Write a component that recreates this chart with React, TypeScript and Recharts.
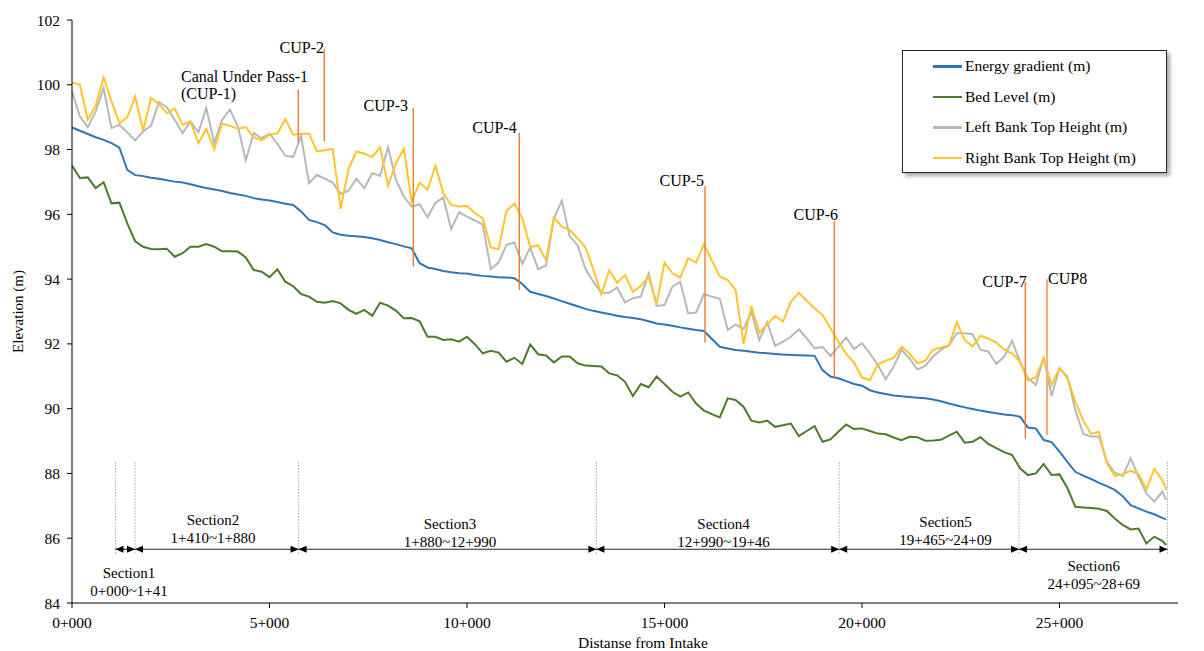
import React from "react";
import { LineChart, Line, XAxis, YAxis, Legend, ReferenceLine, ReferenceDot } from "recharts";

document.body.style.margin = "0";
document.body.style.overflow = "hidden";

const FONT = "'Times New Roman', 'Liberation Serif', serif";

// chainage stations (m)
const stations = [
  0, 200, 400, 600, 800, 1000, 1200, 1400, 1600, 1800,
  2000, 2200, 2400, 2600, 2800, 3000, 3200, 3400, 3600, 3800,
  4000, 4200, 4400, 4600, 4800, 5000, 5200, 5400, 5600, 5800,
  6000, 6200, 6400, 6600, 6800, 7000, 7200, 7400, 7600, 7800,
  8000, 8200, 8400, 8600, 8800, 9000, 9200, 9400, 9600, 9800,
  10000, 10200, 10400, 10600, 10800, 11000, 11200, 11400, 11600, 11800,
  12000, 12200, 12400, 12600, 12800, 13000, 13200, 13400, 13600, 13800,
  14000, 14200, 14400, 14600, 14800, 15000, 15200, 15400, 15600, 15800,
  16000, 16200, 16400, 16600, 16800, 17000, 17200, 17400, 17600, 17800,
  18000, 18200, 18400, 18600, 18800, 19000, 19200, 19400, 19600, 19800,
  20000, 20200, 20400, 20600, 20800, 21000, 21200, 21400, 21600, 21800,
  22000, 22200, 22400, 22600, 22800, 23000, 23200, 23400, 23600, 23800,
  24000, 24200, 24400, 24600, 24800, 25000, 25200, 25400, 25600, 25800,
  26000, 26200, 26400, 26600, 26800, 27000, 27200, 27400, 27600, 27700,
];

const energyGradient = [
  98.68, 98.58, 98.48, 98.38, 98.3, 98.2, 98.06, 97.37, 97.21, 97.18,
  97.13, 97.1, 97.05, 97.01, 96.98, 96.93, 96.87, 96.81, 96.77, 96.72,
  96.66, 96.61, 96.57, 96.5, 96.46, 96.43, 96.38, 96.33, 96.29, 96.09,
  95.83, 95.76, 95.67, 95.44, 95.37, 95.34, 95.32, 95.3, 95.26, 95.21,
  95.14, 95.08, 95.01, 94.95, 94.49, 94.36, 94.31, 94.25, 94.21, 94.18,
  94.17, 94.13, 94.1, 94.08, 94.06, 94.05, 94.03, 93.85, 93.61, 93.54,
  93.48, 93.4, 93.32, 93.24, 93.16, 93.08, 93.02, 92.97, 92.92, 92.87,
  92.83, 92.8, 92.76, 92.7, 92.63, 92.6, 92.56, 92.51, 92.47, 92.43,
  92.4, 92.15, 91.91, 91.86, 91.81, 91.79, 91.76, 91.73, 91.71, 91.69,
  91.67, 91.66, 91.65, 91.64, 91.63, 91.19, 90.99, 90.94, 90.85, 90.76,
  90.71, 90.57, 90.5, 90.45, 90.41, 90.38, 90.36, 90.34, 90.32, 90.28,
  90.23, 90.16, 90.1, 90.04, 89.99, 89.94, 89.9, 89.86, 89.82, 89.8,
  89.75, 89.42, 89.39, 89.03, 88.97, 88.67, 88.36, 88.05, 87.93, 87.83,
  87.71, 87.61, 87.49, 87.3, 87.02, 86.92, 86.82, 86.74, 86.63, 86.58,
];

const bedLevel = [
  97.51, 97.12, 97.14, 96.81, 96.99, 96.34, 96.36, 95.72, 95.17, 95.0,
  94.93, 94.92, 94.94, 94.69, 94.8, 95.0, 95.0, 95.08, 95.0, 94.86,
  94.86, 94.85, 94.67, 94.28, 94.23, 94.06, 94.3, 93.92, 93.78, 93.54,
  93.46, 93.3, 93.27, 93.32, 93.25, 93.05, 92.93, 93.05, 92.87, 93.27,
  93.18, 93.03, 92.79, 92.8, 92.7, 92.22, 92.22, 92.12, 92.14, 92.07,
  92.22, 91.99, 91.71, 91.79, 91.73, 91.45, 91.57, 91.38, 91.98, 91.68,
  91.64, 91.43, 91.61, 91.61, 91.4, 91.33, 91.32, 91.3, 91.09, 91.03,
  90.83, 90.39, 90.76, 90.66, 90.99, 90.76, 90.52, 90.37, 90.5, 90.16,
  89.94, 89.83, 89.73, 90.32, 90.27, 90.06, 89.63, 89.57, 89.63, 89.44,
  89.49, 89.54, 89.15, 89.31, 89.46, 88.98, 89.05, 89.29, 89.51, 89.37,
  89.39, 89.31, 89.23, 89.21, 89.11, 89.03, 89.13, 89.12, 89.01, 89.02,
  89.04, 89.17, 89.29, 88.95, 88.98, 89.12, 88.91, 88.78, 88.66, 88.57,
  88.16, 87.95, 88.0, 88.29, 87.95, 87.97, 87.55, 86.97, 86.95, 86.93,
  86.91, 86.84, 86.61, 86.41, 86.27, 86.3, 85.84, 86.05, 85.92, 85.79,
];

const leftBankTop = [
  99.79, 99.02, 98.69, 99.18, 99.9, 98.66, 98.76, 98.53, 98.28, 98.56,
  98.73, 99.46, 99.31, 98.92, 98.51, 98.87, 98.53, 99.28, 98.2, 98.92,
  99.23, 98.71, 97.66, 98.51, 98.35, 98.49, 98.18, 97.81, 97.77, 98.42,
  96.96, 97.22, 97.1, 96.98, 96.63, 96.73, 97.1, 96.81, 97.27, 97.19,
  98.07, 97.07, 96.55, 96.24, 96.31, 95.91, 96.35, 96.52, 95.54, 96.07,
  95.93, 95.81, 95.68, 94.31, 94.51, 95.06, 95.13, 94.47, 94.98, 94.31,
  94.42, 95.88, 96.42, 95.32, 95.04, 94.31, 93.92, 93.58, 93.58, 93.74,
  93.28, 93.41, 93.46, 94.18, 93.17, 93.2, 93.77, 93.92, 92.94, 92.97,
  93.54, 93.46, 93.39, 92.43, 92.6, 92.46, 92.99, 92.12, 92.67, 91.94,
  92.07, 92.22, 92.45, 92.17, 91.86, 91.91, 91.63, 91.91, 92.19, 91.84,
  92.02, 91.71, 91.35, 90.91, 91.3, 91.81, 91.56, 91.21, 91.32, 91.61,
  91.82, 91.95, 92.33, 92.33, 92.3, 91.82, 91.76, 91.38, 91.61, 92.1,
  91.45, 90.94, 90.73, 91.58, 90.39, 91.25, 90.99, 89.96, 89.22, 89.14,
  89.14, 88.36, 88.02, 87.92, 88.47, 87.9, 87.38, 87.13, 87.44, 87.18,
];

const rightBankTop = [
  100.07, 100.0, 98.92, 99.35, 100.23, 99.49, 98.8, 99.0, 99.63, 98.58,
  99.59, 99.41, 99.12, 99.27, 98.76, 98.87, 98.2, 98.64, 98.01, 98.8,
  98.73, 98.64, 98.69, 98.38, 98.28, 98.46, 98.49, 98.94, 98.46, 98.49,
  98.49, 97.94, 97.98, 98.02, 96.17, 97.4, 97.94, 97.87, 97.77, 98.07,
  96.89, 97.58, 98.02, 96.4, 96.98, 96.76, 97.5, 96.66, 96.29, 96.24,
  96.26, 96.04, 95.88, 94.98, 94.93, 96.11, 96.33, 95.88, 94.99, 95.04,
  94.59, 95.9, 95.62, 95.52, 95.26, 94.98, 94.29, 93.54, 94.27, 93.89,
  94.13, 93.61, 93.79, 94.08, 93.23, 94.51, 94.18, 94.05, 94.64, 94.51,
  95.08, 94.57, 94.08, 93.97, 93.67, 92.0, 93.17, 92.35, 92.6, 92.86,
  92.69, 93.3, 93.58, 93.33, 93.1, 92.89, 92.48, 92.07, 91.69, 91.42,
  90.96, 90.88, 91.37, 91.48, 91.57, 91.91, 91.71, 91.4, 91.48, 91.82,
  91.89, 91.95, 92.67, 92.12, 91.92, 92.25, 92.16, 92.04, 91.82, 91.71,
  91.45, 90.87, 90.97, 91.56, 90.73, 91.25, 90.94, 90.22, 89.63, 89.22,
  89.29, 88.31, 87.92, 87.97, 88.09, 87.98, 87.51, 88.14, 87.8, 87.51,
];

const seriesNames = [
  "Energy gradient (m)", "Bed Level (m)", "Left Bank Top Height (m)", "Right Bank Top Height (m)",
];

const xTicks = [0, 5000, 10000, 15000, 20000, 25000];
const yTicks = [84, 86, 88, 90, 92, 94, 96, 98, 100, 102];

// canal under passes
const cupStations = [5729, 6387, 8641, 11324, 16025, 19299, 24134, 24684];
const cupTop = [99.85, 101.1, 99.28, 98.51, 96.88, 95.78, 93.92, 94.0];
const cupBottom = [98.22, 98.25, 94.39, 93.67, 92.04, 90.94, 89.08, 89.18];
const cupLabels = [
  ["Canal Under Pass-1", "(CUP-1)"], ["CUP-2"], ["CUP-3"], ["CUP-4"],
  ["CUP-5"], ["CUP-6"], ["CUP-7"], ["CUP8"],
];
const cupLabelX = [2759, 6380, 8506, 11258, 16000, 19392, 24170, 24709];
const cupLabelY = [100.1, 100.99, 99.18, 98.52, 96.88, 95.81, 93.77, 93.84];
const cupLabelAnchor = ["start", "end", "end", "end", "end", "end", "end", "start"];

// canal sections
const sectionBounds = [1099, 1595, 5737, 13276, 19423, 23975, 27734];
const sectionNames = ["Section1", "Section2", "Section3", "Section4", "Section5", "Section6"];
const sectionRanges = [
  "0+000~1+41", "1+410~1+880", "1+880~12+990", "12+990~19+46", "19+465~24+09", "24+095~28+69",
];
const sectionLabelX = [1443, 3570, 9570, 16496, 22116, 25866];
const sectionLabelY = [84.76, 86.4, 86.28, 86.28, 86.34, 84.98];
const arrowLevel = 85.66;
const dividerTop = 88.36;
const dividerBottom = 85.53;

const rows = stations.map((x, i) => ({
  x,
  energy: energyGradient[i],
  bed: bedLevel[i],
  left: leftBankTop[i],
  right: rightBankTop[i],
}));

const chainage = (v: number) => `${Math.floor(v / 1000)}+${String(v % 1000).padStart(3, "0")}`;

// eslint-disable-next-line @typescript-eslint/no-explicit-any
function ArrowShape(p: any) {
  const { x1, y1, x2 } = p;
  const h = 8;
  const w = 3.5;
  return (
    <g>
      <line x1={x1} y1={y1} x2={x2} y2={y1} stroke="#262626" strokeWidth={1.2} />
      <polygon points={`${x1},${y1} ${x1 + h},${y1 - w} ${x1 + h},${y1 + w}`} fill="#000" />
      <polygon points={`${x2},${y1} ${x2 - h},${y1 - w} ${x2 - h},${y1 + w}`} fill="#000" />
    </g>
  );
}

function textShape(lines: string[], anchor: string, size: number, gap: number) {
  // eslint-disable-next-line @typescript-eslint/no-explicit-any
  return (p: any) => (
    <text x={p.cx} y={p.cy} textAnchor={anchor} fontFamily={FONT} fontSize={size} fill="#000">
      {lines.map((t, i) => (
        <tspan key={i} x={p.cx} dy={i === 0 ? 0 : gap}>{t}</tspan>
      ))}
    </text>
  );
}

// eslint-disable-next-line @typescript-eslint/no-explicit-any
function LegendBox(props: any) {
  // keep the series order (recharts sorts legend items by name)
  // eslint-disable-next-line @typescript-eslint/no-explicit-any
  const items = [...(props.payload ?? [])].sort((a: any, b: any) =>
    seriesNames.indexOf(a.value) - seriesNames.indexOf(b.value));
  return (
    <div
      style={{
        width: 265, height: 123, boxSizing: "border-box", border: "1px solid #262626",
        background: "#fff", boxShadow: "3px 3px 4px rgba(0,0,0,0.35)", fontFamily: FONT,
      }}
    >
      {/* eslint-disable-next-line @typescript-eslint/no-explicit-any */}
      {items.map((it: any) => (
        <div key={it.value} style={{ display: "flex", alignItems: "center", height: 30.6 }}>
          <span style={{ marginLeft: 30, width: 29, height: 2.5, background: it.color }} />
          <span style={{ marginLeft: 3, fontSize: 15.5, color: "#000", lineHeight: "18px" }}>{it.value}</span>
        </div>
      ))}
    </div>
  );
}

// eslint-disable-next-line @typescript-eslint/no-explicit-any
function YTitle(p: any) {
  const vb = p.viewBox;
  const cx = vb.x + 23;
  const cy = vb.y + vb.height / 2;
  return (
    <text x={cx} y={cy} transform={`rotate(-90 ${cx} ${cy})`} textAnchor="middle"
      fontFamily={FONT} fontSize={15} fill="#000">
      Elevation (m)
    </text>
  );
}

export default function App() {
  const tickStyle = { fontSize: 15.5, fill: "#000", fontFamily: FONT };
  return (
    <LineChart width={1204} height={651} data={rows} margin={{ top: 20, right: 26, bottom: 0, left: 0 }}>
      <XAxis
        dataKey="x"
        type="number"
        domain={[0, 28000]}
        ticks={xTicks}
        tickFormatter={chainage}
        tick={tickStyle}
        tickSize={5}
        tickMargin={9}
        height={48}
        axisLine={{ stroke: "#000" }}
        tickLine={{ stroke: "#000" }}
        label={{ value: "Distanse from Intake", position: "insideBottom", offset: 3, dx: 18, fill: "#000", fontSize: 15.5, fontFamily: FONT }}
      />
      <YAxis
        type="number"
        domain={[84, 102]}
        ticks={yTicks}
        tick={tickStyle}
        tickSize={5}
        tickMargin={7}
        width={72}
        axisLine={{ stroke: "#000" }}
        tickLine={{ stroke: "#000" }}
        label={{ content: YTitle }}
      />
      <Legend
        content={LegendBox}
        layout="vertical"
        align="center"
        verticalAlign="middle"
        wrapperStyle={{ top: 50, left: 902, width: 265 }}
      />

      {sectionBounds.map((b) => (
        <ReferenceLine key={`d${b}`} segment={[{ x: b, y: dividerBottom }, { x: b, y: dividerTop }]}
          stroke="#7f7f7f" strokeWidth={1} strokeDasharray="1 2" />
      ))}
      {sectionNames.map((n, i) => (
        <ReferenceLine key={`a${n}`}
          segment={[{ x: sectionBounds[i], y: arrowLevel }, { x: sectionBounds[i + 1], y: arrowLevel }]}
          shape={ArrowShape} />
      ))}
      {sectionNames.map((n, i) => (
        <ReferenceDot key={`s${n}`} x={sectionLabelX[i]} y={sectionLabelY[i]} r={0}
          shape={textShape([n, sectionRanges[i]], "middle", 15, 17.5)} />
      ))}

      <Line type="linear" dataKey="energy" name={seriesNames[0]} stroke="#2E75B6" strokeWidth={2} dot={false} activeDot={false} isAnimationActive={false} />
      <Line type="linear" dataKey="bed" name={seriesNames[1]} stroke="#4E7A2B" strokeWidth={2} dot={false} activeDot={false} isAnimationActive={false} />
      <Line type="linear" dataKey="left" name={seriesNames[2]} stroke="#B8B8B8" strokeWidth={2} dot={false} activeDot={false} isAnimationActive={false} />
      <Line type="linear" dataKey="right" name={seriesNames[3]} stroke="#FFC42E" strokeWidth={2} dot={false} activeDot={false} isAnimationActive={false} />

      {cupStations.map((c, i) => (
        <ReferenceLine key={`c${i}`} segment={[{ x: c, y: cupBottom[i] }, { x: c, y: cupTop[i] }]}
          stroke={i === 7 ? "#F4B183" : "#ED7D31"} strokeWidth={i === 7 ? 2.2 : 1.4} />
      ))}
      {cupLabels.map((lines, i) => (
        <ReferenceDot key={`l${i}`} x={cupLabelX[i]} y={cupLabelY[i]} r={0}
          shape={textShape(lines, cupLabelAnchor[i], 16, 17)} />
      ))}
    </LineChart>
  );
}
